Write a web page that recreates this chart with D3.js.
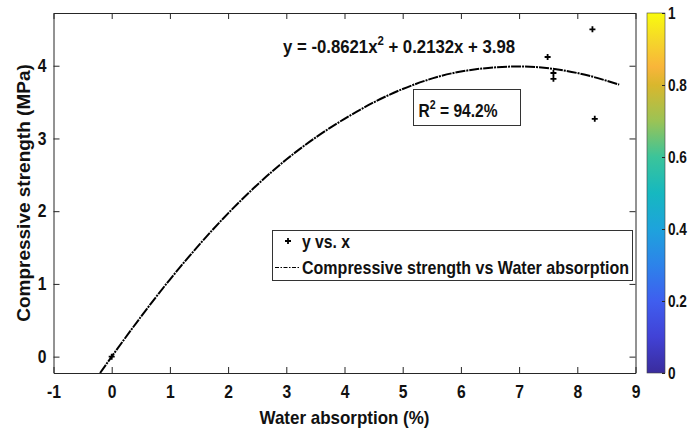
<!DOCTYPE html>
<meta charset="utf-8">
<style>
body { margin: 0; background: #fff; }
svg { font-family: "Liberation Sans", Arial, sans-serif; }
.axis text { font-size: 18px; font-weight: bold; fill: #111; }
.axis path, .axis line { stroke: #262626; stroke-width: 1; }
.cb text { font-size: 16px; }
.fit { fill: none; stroke: #000; stroke-width: 2px; stroke-dasharray: 10,1,2,1; }
.pt { fill: none; stroke: #000; stroke-width: 1.8px; }
.lbl { font-size: 19px; font-weight: bold; fill: #111; }
</style>
<body>
<svg width="690" height="432"></svg>
<script src="https://d3js.org/d3.v7.min.js"></script>
<script>

// measured points (water absorption %, compressive strength MPa)
var ptX = [0, 7.49, 7.59, 7.59, 8.26, 8.30];
var ptY = [0, 4.12, 3.90, 3.82, 4.50, 3.27];

// fitted curve
var fitX = [-0.2, 0, 1, 2, 3, 4, 5, 6, 7, 8, 8.72];
var fitY = [-0.225, 0, 1.06, 1.97, 2.71, 3.27, 3.68, 3.92, 3.99, 3.90, 3.74];

// tick values
var xTicks = [-1, 0, 1, 2, 3, 4, 5, 6, 7, 8, 9];
var yTicks = [0, 1, 2, 3, 4];
var cbTicks = [0, 0.2, 0.4, 0.6, 0.8, 1];

// colorbar (parula) stops
var cbOffsets = [0, 0.1, 0.2, 0.3, 0.4, 0.5, 0.6, 0.7, 0.8, 0.85, 0.92, 1];
var cbColors = ["#3a2c9d", "#4142d6", "#3f5eef", "#2d83ea", "#1ea3dc", "#16b8c0",
                "#3bc49a", "#9bc355", "#d9b72d", "#f9b53a", "#f5d52b", "#f9fb0e"];

var m = {left: 53.5, right: 635.5, top: 13, bottom: 373};

var svg = d3.select("svg");

var x = d3.scaleLinear().domain([-1, 9]).range([m.left, m.right]);
var y = d3.scaleLinear().domain([-0.225, 4.725]).range([m.bottom, m.top]);

var fmt = function(d) { return String(d); };

// the original figure is a bit squeezed sideways
function squeeze(sel, k) {
  sel.each(function() {
    var w = this.getComputedTextLength();
    d3.select(this).attr("textLength", w * k).attr("lengthAdjust", "spacingAndGlyphs");
  });
}

// clip
var defs = svg.append("defs");
defs.append("clipPath").attr("id", "clip")
  .append("rect").attr("x", m.left).attr("y", m.top)
  .attr("width", m.right - m.left).attr("height", m.bottom - m.top);

// axes (ticks inward, matlab style)
var gx = svg.append("g").attr("class", "axis")
    .attr("transform", "translate(0," + m.bottom + ")")
    .call(d3.axisBottom(x).tickValues(xTicks).tickFormat(fmt)
      .tickSizeInner(-6).tickSizeOuter(0).tickPadding(12));
svg.append("g").attr("class", "axis")
    .attr("transform", "translate(0," + m.top + ")")
    .call(d3.axisTop(x).tickValues(xTicks).tickFormat("")
      .tickSizeInner(-6).tickSizeOuter(0));
var gy = svg.append("g").attr("class", "axis")
    .attr("transform", "translate(" + m.left + ",0)")
    .call(d3.axisLeft(y).tickValues(yTicks).tickFormat(fmt)
      .tickSizeInner(-6).tickSizeOuter(0).tickPadding(7));
svg.append("g").attr("class", "axis")
    .attr("transform", "translate(" + m.right + ",0)")
    .call(d3.axisRight(y).tickValues(yTicks).tickFormat("")
      .tickSizeInner(-6).tickSizeOuter(0));
squeeze(gx.selectAll("text"), 0.87);
squeeze(gy.selectAll("text"), 0.87);

// fitted curve
var line = d3.line()
    .x(function(d) { return x(d[0]); })
    .y(function(d) { return y(d[1]); })
    .curve(d3.curveMonotoneX);

svg.append("path")
    .datum(d3.zip(fitX, fitY))
    .attr("class", "fit")
    .attr("clip-path", "url(#clip)")
    .attr("d", line);

// data points as "+"
var plus = "M-3,0H3M0,-3V3";
svg.append("g").selectAll("path")
    .data(d3.zip(ptX, ptY))
  .enter().append("path")
    .attr("class", "pt")
    .attr("transform", function(d) { return "translate(" + x(d[0]) + "," + y(d[1]) + ")"; })
    .attr("d", plus);

// equation
var eq = svg.append("text").attr("class", "lbl")
    .attr("x", 283).attr("y", 53)
    .attr("textLength", 232).attr("lengthAdjust", "spacingAndGlyphs");
eq.append("tspan").text("y = -0.8621x");
eq.append("tspan").attr("dy", -8).style("font-size", "13px").text("2");
eq.append("tspan").attr("dy", 8).text(" + 0.2132x + 3.98");

// R^2 box
svg.append("rect").attr("x", 413.5).attr("y", 89.5).attr("width", 107).attr("height", 36)
    .attr("fill", "#fff").attr("stroke", "#333").attr("stroke-width", 1);
var r2 = svg.append("text").attr("class", "lbl")
    .attr("x", 418.5).attr("y", 117)
    .attr("textLength", 79).attr("lengthAdjust", "spacingAndGlyphs");
r2.append("tspan").text("R");
r2.append("tspan").attr("dy", -8).style("font-size", "13px").text("2");
r2.append("tspan").attr("dy", 8).text(" = 94.2%");

// legend
svg.append("rect").attr("x", 272.5).attr("y", 230.5).attr("width", 360).attr("height", 50)
    .attr("fill", "#fff").attr("stroke", "#333").attr("stroke-width", 1);
svg.append("path").attr("class", "pt").attr("d", plus)
    .attr("transform", "translate(288,241)");
svg.append("text").attr("class", "lbl").attr("x", 302).attr("y", 248)
    .attr("textLength", 48).attr("lengthAdjust", "spacingAndGlyphs")
    .text("y vs. x");
svg.append("line").attr("x1", 275).attr("x2", 300).attr("y1", 267.5).attr("y2", 267.5)
    .attr("stroke", "#000").attr("stroke-width", 1.2).attr("stroke-dasharray", "4,1.5,1.5,1.5");
svg.append("text").attr("class", "lbl").attr("x", 302).attr("y", 274)
    .attr("textLength", 327).attr("lengthAdjust", "spacingAndGlyphs")
    .text("Compressive strength vs Water absorption");

// axis labels
svg.append("text").attr("class", "lbl")
    .attr("text-anchor", "middle")
    .attr("x", (m.left + m.right) / 2).attr("y", 424)
    .attr("textLength", 170).attr("lengthAdjust", "spacingAndGlyphs")
    .text("Water absorption (%)");
svg.append("text").attr("class", "lbl")
    .attr("text-anchor", "middle")
    .attr("transform", "translate(30," + ((m.top + m.bottom) / 2) + ") rotate(-90)")
    .text("Compressive strength (MPa)");

// colorbar
var cbX = 647, cbW = 18;
var grad = defs.append("linearGradient").attr("id", "parula")
    .attr("x1", "0%").attr("y1", "100%").attr("x2", "0%").attr("y2", "0%");
grad.selectAll("stop").data(d3.zip(cbOffsets, cbColors)).enter().append("stop")
    .attr("offset", function(d) { return d[0] * 100 + "%"; })
    .attr("stop-color", function(d) { return d[1]; });

svg.append("rect").attr("x", cbX).attr("y", m.top).attr("width", cbW).attr("height", m.bottom - m.top)
    .attr("fill", "url(#parula)").attr("stroke", "#444").attr("stroke-width", 0.6);

var c = d3.scaleLinear().domain([0, 1]).range([m.bottom, m.top]);
var gc = svg.append("g").attr("class", "axis cb")
    .attr("transform", "translate(" + (cbX + cbW) + ",0)")
    .call(d3.axisRight(c).tickValues(cbTicks).tickFormat(fmt)
      .tickSizeInner(-3).tickSizeOuter(0).tickPadding(3));
gc.select(".domain").remove();
squeeze(gc.selectAll("text"), 0.85);

</script>
</body>
